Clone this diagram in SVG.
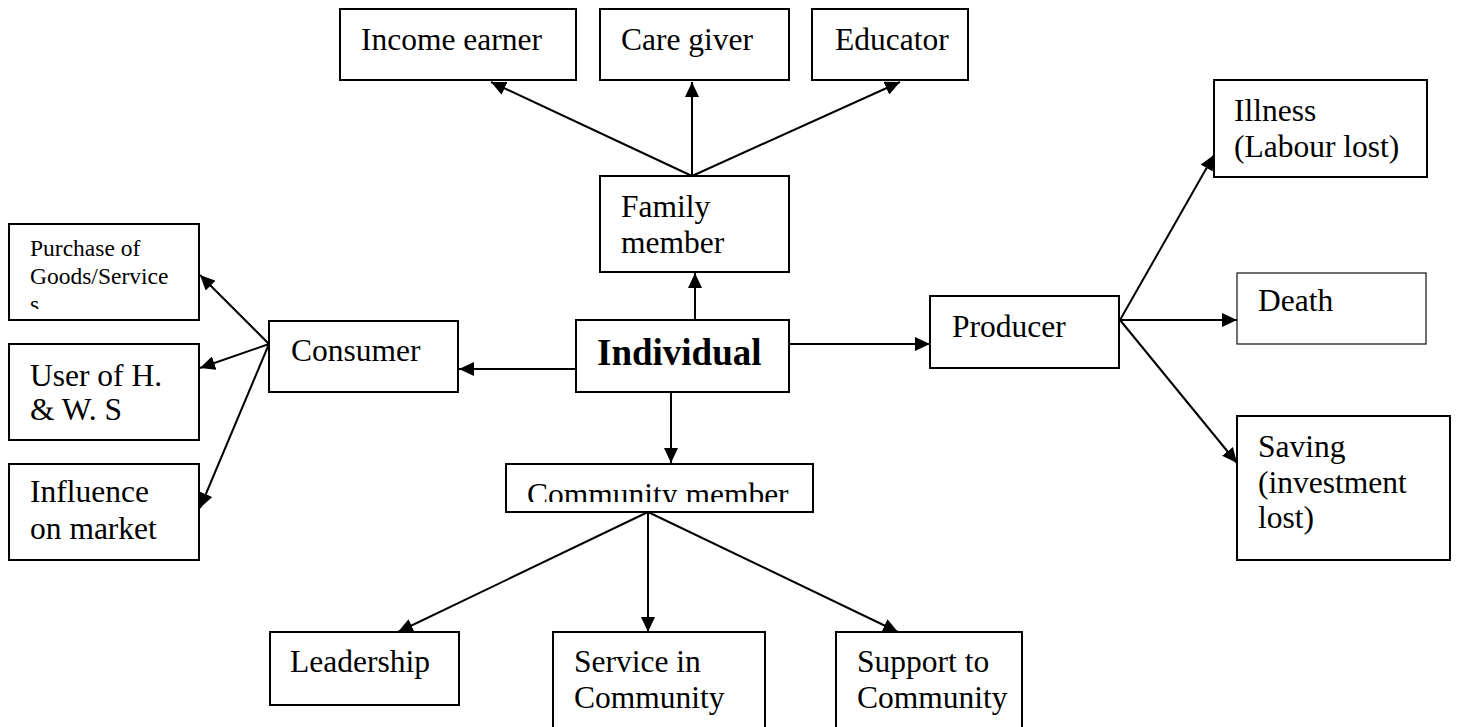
<svg xmlns="http://www.w3.org/2000/svg" width="1457" height="727" viewBox="0 0 1457 727">
  <style>
    .box { fill: #fff; stroke: #000; stroke-width: 2; }
    .thin { fill: #fff; stroke: #222; stroke-width: 1.3; }
    .lbl { font-family: "Liberation Serif", "Times New Roman", serif; font-size: 31.5px; fill: #000; }
    .small { font-family: "Liberation Serif", "Times New Roman", serif; font-size: 23.5px; fill: #000; }
    .bold { font-family: "Liberation Serif", "Times New Roman", serif; font-size: 37px; font-weight: bold; fill: #000; }
    .edge { stroke: #000; stroke-width: 2; fill: none; }
    .arr { marker-end: url(#head); }
  </style>
  <defs>
    <marker id="head" markerUnits="userSpaceOnUse" markerWidth="16" markerHeight="14" refX="15" refY="7" orient="auto">
      <path d="M0,0 L15,7 L0,14 Z" fill="#000"/>
    </marker>
    <clipPath id="clipPurchase"><rect x="9" y="224" width="191" height="85"/></clipPath>
    <clipPath id="clipCommunity"><rect x="506" y="464" width="307" height="38"/></clipPath>
  </defs>

  <!-- connectors -->
  <g id="connectors">
    <!-- family member to its roles -->
    <line class="edge arr" x1="692" y1="176" x2="491" y2="82"/>
    <line class="edge arr" x1="692" y1="176" x2="692" y2="82"/>
    <line class="edge arr" x1="692" y1="176" x2="900" y2="82"/>
    <!-- individual outward -->
    <line class="edge arr" x1="695" y1="320" x2="695" y2="273"/>
    <line class="edge arr" x1="576" y1="369" x2="459" y2="369"/>
    <line class="edge arr" x1="789" y1="344" x2="930" y2="344"/>
    <line class="edge arr" x1="671" y1="392" x2="671" y2="463"/>
    <!-- consumer roles -->
    <line class="edge arr" x1="269" y1="344" x2="200" y2="275"/>
    <line class="edge arr" x1="269" y1="344" x2="200" y2="368"/>
    <line class="edge arr" x1="269" y1="344" x2="200" y2="508"/>
    <!-- producer losses -->
    <line class="edge arr" x1="1120" y1="320" x2="1214" y2="155"/>
    <line class="edge arr" x1="1120" y1="320" x2="1237" y2="320"/>
    <line class="edge arr" x1="1120" y1="320" x2="1237" y2="463"/>
    <!-- community roles -->
    <line class="edge arr" x1="648" y1="512" x2="398" y2="632"/>
    <line class="edge arr" x1="648" y1="512" x2="648" y2="632"/>
    <line class="edge arr" x1="648" y1="512" x2="898" y2="632"/>
  </g>

  <g id="income-earner">
    <rect class="box" x="340" y="9" width="236" height="71"/>
    <text class="lbl" x="361" y="50">Income earner</text>
  </g>
  <g id="care-giver">
    <rect class="box" x="600" y="9" width="189" height="71"/>
    <text class="lbl" x="621" y="50">Care giver</text>
  </g>
  <g id="educator">
    <rect class="box" x="812" y="9" width="156" height="71"/>
    <text class="lbl" x="835" y="50">Educator</text>
  </g>

  <g id="family-member">
    <rect class="box" x="600" y="176" width="189" height="96"/>
    <text class="lbl" x="621" y="217">Family</text>
    <text class="lbl" x="621" y="253">member</text>
  </g>

  <g id="individual">
    <rect class="box" x="576" y="320" width="213" height="72"/>
    <text class="bold" x="597" y="365">Individual</text>
  </g>

  <g id="consumer">
    <rect class="box" x="269" y="321" width="189" height="71"/>
    <text class="lbl" x="291" y="361">Consumer</text>
  </g>

  <g id="producer">
    <rect class="box" x="930" y="296" width="189" height="72"/>
    <text class="lbl" x="952" y="337">Producer</text>
  </g>

  <g id="purchase">
    <rect class="box" x="9" y="224" width="190" height="96"/>
    <g clip-path="url(#clipPurchase)">
      <text class="small" x="30" y="256">Purchase of</text>
      <text class="small" x="30" y="284">Goods/Service</text>
      <text class="small" x="30" y="312">s</text>
    </g>
  </g>
  <g id="user-hws">
    <rect class="box" x="9" y="344" width="190" height="96"/>
    <text class="lbl" x="30" y="386">User of H.</text>
    <text class="lbl" x="30" y="420">&amp; W. S</text>
  </g>
  <g id="influence">
    <rect class="box" x="9" y="464" width="190" height="96"/>
    <text class="lbl" x="30" y="502">Influence</text>
    <text class="lbl" x="30" y="539">on market</text>
  </g>

  <g id="illness">
    <rect class="box" x="1214" y="80" width="213" height="97"/>
    <text class="lbl" x="1234" y="121">Illness</text>
    <text class="lbl" x="1234" y="157">(Labour lost)</text>
  </g>
  <g id="death">
    <rect class="thin" x="1237" y="273" width="189" height="71"/>
    <text class="lbl" x="1258" y="311">Death</text>
  </g>
  <g id="saving">
    <rect class="box" x="1237" y="416" width="213" height="144"/>
    <text class="lbl" x="1258" y="457">Saving</text>
    <text class="lbl" x="1258" y="493">(investment</text>
    <text class="lbl" x="1258" y="528">lost)</text>
  </g>

  <g id="community-member">
    <rect class="box" x="506" y="464" width="307" height="48"/>
    <g clip-path="url(#clipCommunity)">
      <text class="lbl" x="527" y="505">Community member</text>
    </g>
  </g>

  <g id="leadership">
    <rect class="box" x="270" y="632" width="189" height="73"/>
    <text class="lbl" x="290" y="672">Leadership</text>
  </g>
  <g id="service">
    <rect class="box" x="553" y="632" width="212" height="96"/>
    <text class="lbl" x="574" y="672">Service in</text>
    <text class="lbl" x="574" y="708">Community</text>
  </g>
  <g id="support">
    <rect class="box" x="836" y="632" width="186" height="96"/>
    <text class="lbl" x="857" y="672">Support to</text>
    <text class="lbl" x="857" y="708">Community</text>
  </g>
</svg>
